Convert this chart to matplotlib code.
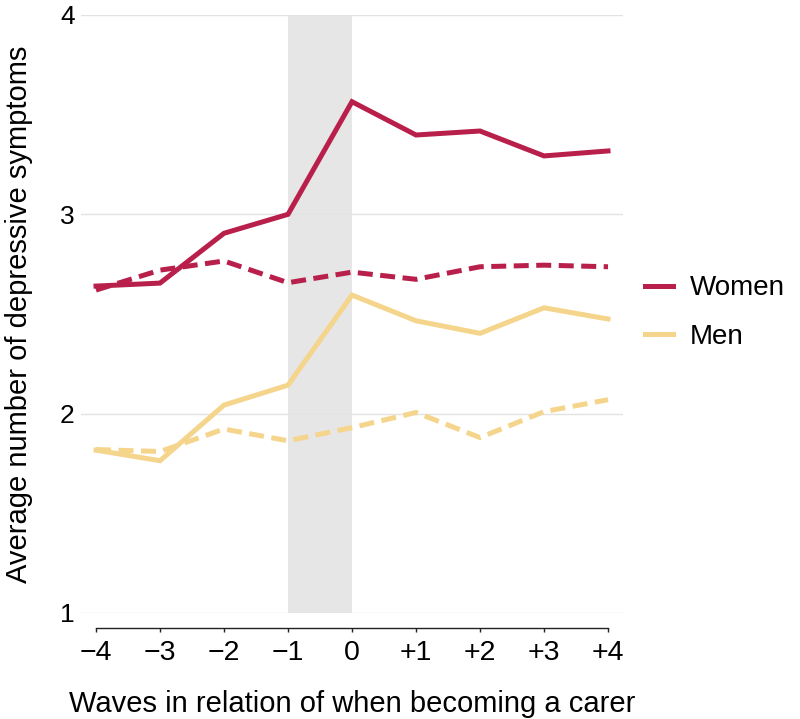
import matplotlib
matplotlib.use("Agg")
import matplotlib.pyplot as plt
from matplotlib.lines import Line2D

plt.rcParams['font.family'] = ['Liberation Sans', 'DejaVu Sans']

waves = [-4, -3, -2, -1, 0, 1, 2, 3, 4]
wave_labels = ['\u22124', '\u22123', '\u22122', '\u22121', '0', '+1', '+2', '+3', '+4']
women_carer = [2.64, 2.655, 2.905, 3.0, 3.565, 3.398, 3.418, 3.293, 3.318]
women_noncarer = [2.62, 2.72, 2.766, 2.657, 2.71, 2.674, 2.737, 2.745, 2.737]
men_carer = [1.817, 1.764, 2.043, 2.143, 2.595, 2.466, 2.403, 2.531, 2.475]
men_noncarer = [1.82, 1.81, 1.923, 1.864, 1.93, 2.006, 1.88, 2.01, 2.07]
y_ticks = [1, 2, 3, 4]

c_women = '#B81F4A'
c_men = '#F4D58B'
lw = 3.6

W, H = 800, 719
fig = plt.figure(figsize=(8, 7.19), dpi=100)
ax = fig.add_axes([81/W, 1-613/H, 542/W, 598/H])

ax.axvspan(-1, 0, color='#E6E6E6', lw=0, zorder=0)
for yv in y_ticks:
    ax.axhline(yv, color='#E2E2E2', lw=1.0, zorder=0.5)

dash = (3, 1.5)
ax.plot(waves, women_noncarer, color=c_women, lw=lw, dashes=dash, dash_capstyle='butt', zorder=3)
ax.plot(waves, men_noncarer, color=c_men, lw=lw, dashes=dash, dash_capstyle='butt', zorder=2)
ax.plot(waves, men_carer, color=c_men, lw=lw, solid_joinstyle='miter', zorder=2)
ax.plot(waves, women_carer, color=c_women, lw=lw, solid_joinstyle='miter', zorder=3)

ax.set_xlim(-4 - 15/64, 4 + 15/64)
ax.set_ylim(1, 4)
ax.set_xticks(waves)
ax.set_xticklabels(wave_labels)
ax.set_yticks(y_ticks)

for s in ['top', 'right', 'left']:
    ax.spines[s].set_visible(False)
ax.spines['bottom'].set_position(('outward', 10.8))
ax.spines['bottom'].set_bounds(-4, 4)
ax.spines['bottom'].set_linewidth(1.0)
ax.spines['bottom'].set_color('#222222')

ax.tick_params(axis='x', length=3.2, width=1.0, pad=5.5, labelsize=20.5, color='#222222')
ax.tick_params(axis='y', length=0, pad=4.5, labelsize=19)

fig.text((67+638)/2/W, 1-712/H, 'Waves in relation of when becoming a carer',
         fontsize=21, ha='center', va='baseline')
fig.text(27/W, 1-314/H, 'Average number of depressive symptoms', fontsize=21,
         rotation=90, rotation_mode='anchor', ha='center', va='baseline')

handles = [Line2D([], [], color=c_women, lw=lw), Line2D([], [], color=c_men, lw=lw)]
fig.legend(handles, ['Women', 'Men'], loc='center left', bbox_to_anchor=(645/W, 1-312.5/H),
           frameon=False, fontsize=20, handlelength=1.0, handletextpad=0.6,
           labelspacing=0.8, borderpad=0, borderaxespad=0)

fig.savefig('out.png', dpi=100)
